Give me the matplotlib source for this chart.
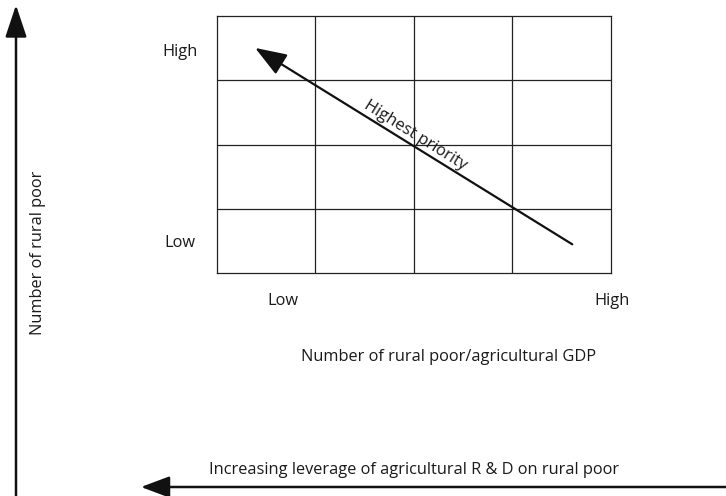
import numpy as np
import matplotlib.pyplot as plt

# grid of the priority matrix
n_cols = 4
n_rows = 4
level_labels = ["Low", "High"]
arrow_start = (3.61, 0.45)   # grid units
arrow_end = (0.39, 3.50)
diag_label = "Highest priority"
x_title = "Number of rural poor/agricultural GDP"
y_title = "Number of rural poor"
bottom_title = "Increasing leverage of agricultural R & D on rural poor"

W, H = 726, 496
plt.rcParams['font.family'] = ['Open Sans', 'DejaVu Sans']
fs = 11.8
tc = "#1a1a1a"

fig = plt.figure(figsize=(W / 100, H / 100), dpi=100)

# full-figure axes in pixel coords for outer arrows and labels
bg = fig.add_axes([0, 0, 1, 1])
bg.set_xlim(0, W)
bg.set_ylim(H, 0)
bg.axis('off')

# grid axes
gl, gr, gt, gb = 216.7, 610.7, 15.7, 273.3
ax = fig.add_axes([gl / W, 1 - gb / H, (gr - gl) / W, (gb - gt) / H])
ax.set_xlim(0, n_cols)
ax.set_ylim(0, n_rows)
for i in range(1, n_cols):
    ax.axvline(i, color="#222222", lw=0.9)
for j in range(1, n_rows):
    ax.axhline(j, color="#222222", lw=0.9)
for s in ax.spines.values():
    s.set_color("#222222")
    s.set_linewidth(0.9)
ax.set_xticks([])
ax.set_yticks([])

ax.annotate("", xy=arrow_end, xytext=arrow_start,
            arrowprops=dict(arrowstyle="-|>,head_length=1.5,head_width=0.55",
                            color="#111111", lw=1.6, mutation_scale=13,
                            shrinkA=0, shrinkB=0))
# label sits on the arrow line
tx = 1.97
ty = arrow_start[1] + (arrow_start[0] - tx) * (arrow_end[1] - arrow_start[1]) / (arrow_start[0] - arrow_end[0])
ax.text(tx, ty + 0.03, diag_label, rotation=-32, rotation_mode='anchor',
        ha='center', va='bottom', fontsize=fs, color=tc)

# level labels
bg.text(180, 52, level_labels[1], ha='center', va='center', fontsize=fs, color=tc)
bg.text(180, 243, level_labels[0], ha='center', va='center', fontsize=fs, color=tc)
bg.text(283, 301, level_labels[0], ha='center', va='center', fontsize=fs, color=tc)
bg.text(612, 301, level_labels[1], ha='center', va='center', fontsize=fs, color=tc)
bg.text(449, 357, x_title, ha='center', va='center', fontsize=fs, color=tc)

# left vertical arrow
bg.annotate("", xy=(16, 5), xytext=(16, H + 5),
            arrowprops=dict(arrowstyle="-|>,head_length=1.8,head_width=0.6",
                            color="#111111", lw=1.8, mutation_scale=11,
                            shrinkA=0, shrinkB=0))
bg.text(38, 253, y_title, rotation=90, ha='center', va='center', fontsize=fs, color=tc)

# bottom horizontal arrow
bg.annotate("", xy=(141, 487), xytext=(W + 5, 487),
            arrowprops=dict(arrowstyle="-|>,head_length=1.6,head_width=0.6",
                            color="#111111", lw=1.8, mutation_scale=11,
                            shrinkA=0, shrinkB=0))
bg.text(414, 470, bottom_title, ha='center', va='center', fontsize=fs, color=tc)

fig.savefig("out.png", dpi=100)
